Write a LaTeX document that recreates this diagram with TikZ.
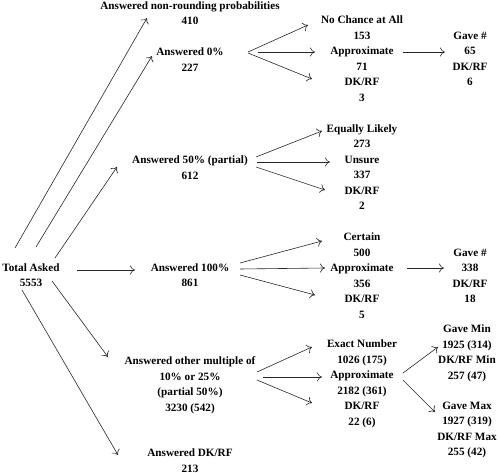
\documentclass[tikz,border=0pt]{standalone}
\usepackage{fontspec}
\setmainfont{Liberation Serif}
\usetikzlibrary{arrows.meta}
\begin{document}
\begin{tikzpicture}[x=1pt,y=-1pt,
  lbl/.style={font=\fontsize{11.2}{15.5}\selectfont\bfseries, align=center, inner sep=0pt},
  arr/.style={draw=black!85, line width=0.6pt, -{To[length=5pt,width=9pt]}}]
\useasboundingbox (0,0) rectangle (500,473);
% nodes
\node[lbl] (nr) at (190,13) {Answered non-rounding probabilities\\410};
\node[lbl] (z) at (190,59.5) {Answered 0\%\\227};
\node[lbl] (nc) at (362,58.75) {No Chance at All\\153\\Approximate\\71\\DK/RF\\3};
\node[lbl] (g1) at (470,58.6) {Gave \#\\65\\DK/RF\\6};
\node[lbl] (f) at (190,167.5) {Answered 50\% (partial)\\612};
\node[lbl] (el) at (362,167) {Equally Likely\\273\\Unsure\\337\\DK/RF\\2};
\node[lbl] (ta) at (31,275) {Total Asked\\5553};
\node[lbl] (h) at (190,275) {Answered 100\%\\861};
\node[lbl] (ce) at (362,275.5) {Certain\\500\\Approximate\\356\\DK/RF\\5};
\node[lbl] (g2) at (470,276) {Gave \#\\338\\DK/RF\\18};
\node[lbl] (om) at (190,385) {Answered other multiple of\\10\% or 25\%\\(partial 50\%)\\3230 (542)};
\node[lbl] (en) at (362,384) {Exact Number\\1026 (175)\\Approximate\\2182 (361)\\DK/RF\\22 (6)};
\node[lbl] (gmin) at (467,353.5) {Gave Min\\1925 (314)\\DK/RF Min\\257 (47)};
\node[lbl] (gmax) at (467,430) {Gave Max\\1927 (319)\\DK/RF Max\\255 (42)};
\node[lbl] (dk) at (190,460.5) {Answered DK/RF\\213};
% connector end points
\coordinate (ta1) at (15,248);  \coordinate (nr1) at (147,18);
\coordinate (ta2) at (36,247);  \coordinate (z1) at (152,56);
\coordinate (ta3) at (55,258);  \coordinate (f1) at (117,167);
\coordinate (ta4) at (77,270);  \coordinate (h1) at (135,270);
\coordinate (ta5) at (52,281);  \coordinate (om1) at (108,357);
\coordinate (ta6) at (22,290);  \coordinate (dk1) at (118,455);
\coordinate (zA) at (248,52);   \coordinate (zB) at (258,52); \coordinate (zC) at (248,53);
\coordinate (ncA) at (308,25);  \coordinate (ncB) at (315,52); \coordinate (ncC) at (312,79);
\coordinate (nc1) at (403,52);  \coordinate (g1a) at (445,52);
\coordinate (fA) at (256,157);  \coordinate (fB) at (257,162); \coordinate (fC) at (256,167);
\coordinate (elA) at (322,131); \coordinate (elB) at (330,162); \coordinate (elC) at (325,190);
\coordinate (hA) at (240,263);  \coordinate (hB) at (240,269); \coordinate (hC) at (240,275);
\coordinate (ceA) at (322,241); \coordinate (ceB) at (325,268); \coordinate (ceC) at (315,295);
\coordinate (ce1) at (407,268); \coordinate (g2a) at (444,268);
\coordinate (omA) at (257,372); \coordinate (omB) at (263,377); \coordinate (omC) at (257,380);
\coordinate (enA) at (312,347); \coordinate (enB) at (322,377); \coordinate (enC) at (312,403);
\coordinate (en1) at (403,373); \coordinate (en2) at (403,380);
\coordinate (gminA) at (438,347); \coordinate (gmaxA) at (435,412);
% connectors
\draw[arr] (ta1) -- (nr1);
\draw[arr] (ta2) -- (z1);
\draw[arr] (ta3) -- (f1);
\draw[arr] (ta4) -- (h1);
\draw[arr] (ta5) -- (om1);
\draw[arr] (ta6) -- (dk1);
\draw[arr] (zA) -- (ncA);
\draw[arr] (zB) -- (ncB);
\draw[arr] (zC) -- (ncC);
\draw[arr] (nc1) -- (g1a);
\draw[arr] (fA) -- (elA);
\draw[arr] (fB) -- (elB);
\draw[arr] (fC) -- (elC);
\draw[arr] (hA) -- (ceA);
\draw[arr] (hB) -- (ceB);
\draw[arr] (hC) -- (ceC);
\draw[arr] (ce1) -- (g2a);
\draw[arr] (omA) -- (enA);
\draw[arr] (omB) -- (enB);
\draw[arr] (omC) -- (enC);
\draw[arr] (en1) -- (gminA);
\draw[arr] (en2) -- (gmaxA);
\end{tikzpicture}
\end{document}
